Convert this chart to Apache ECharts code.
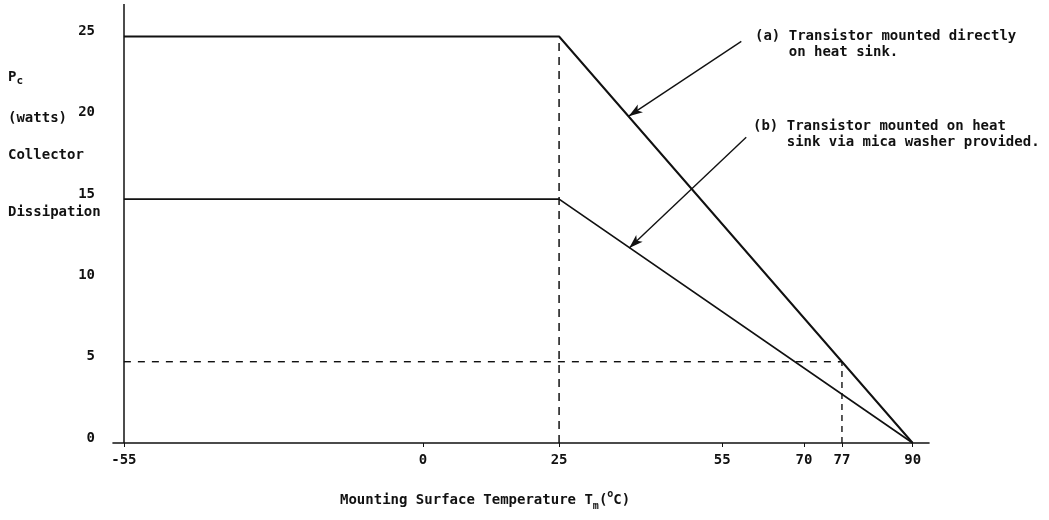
<!DOCTYPE html>
<html>
<head>
<meta charset="utf-8">
<title>Collector Dissipation</title>
<script src="https://cdn.jsdelivr.net/npm/echarts@6/dist/echarts.min.js"></script>
<style>
body { margin:0; background:#fff; }
#chart { width:1049px; height:520px; }
</style>
</head>
<body>
<div id="chart"></div>
<script>
// tick labels
var tempTicks = [-55, 0, 25, 55, 70, 77, 90];
var powerTicks = [0, 5, 10, 15, 20, 25];

// derating curves: temperature (degC) vs collector dissipation (W)
var temps = [-55, 25, 90];
var curveA = [25, 25, 0];   // mounted directly on heat sink
var curveB = [15, 15, 0];   // via mica washer

// dashed guides
var guide25 = [[25, 0], [25, 25]];
var guide5 = [[-55, 5], [77, 5]];
var guide77 = [[77, 0], [77, 5]];

// annotation arrows [from, to]
var arrowA = [[58.5, 24.7], [37.8, 20.1]];
var arrowB = [[59.4, 18.8], [37.9, 12.0]];

var ink = '#111';
var font = 'DejaVu Sans Mono';

function pairs(xs, ys) {
  var out = [];
  for (var i = 0; i < xs.length; i++) out.push([xs[i], ys[i]]);
  return out;
}

function arrow(a) {
  return [{ coord: a[0] }, { coord: a[1] }];
}

var chart = echarts.init(document.getElementById('chart'));

var option = {
  animation: false,
  grid: { left: 113, right: 120, top: 4, bottom: 77 },
  xAxis: {
    type: 'value', min: -57, max: 93,
    splitLine: { show: false },
    axisLine: { onZero: false, lineStyle: { color: ink, width: 1.6 } },
    axisTick: { show: true, customValues: tempTicks, length: 4, lineStyle: { color: ink } },
    axisLabel: {
      customValues: tempTicks, margin: 10, color: ink,
      fontFamily: font, fontWeight: 'bold', fontSize: 14
    }
  },
  yAxis: {
    type: 'value', min: 0, max: 27,
    splitLine: { show: false },
    axisLine: { show: false },
    axisTick: { show: false },
    axisLabel: {
      customValues: powerTicks, margin: 18, color: ink,
      fontFamily: font, fontWeight: 'bold', fontSize: 14,
      verticalAlign: 'bottom', lineHeight: 10
    }
  },
  series: [
    {
      name: 'axis', type: 'line', data: [], silent: true,
      markLine: {
        silent: true, symbol: ['none', 'none'], label: { show: false },
        lineStyle: { color: ink, type: 'solid', width: 1.5 },
        data: [{ xAxis: -55 }]
      }
    },
    {
      name: '(a)', type: 'line', data: pairs(temps, curveA),
      symbol: 'none', lineStyle: { color: ink, width: 2 },
      markLine: {
        silent: true, symbol: ['none', 'arrow'], symbolSize: [7, 14],
        label: { show: false },
        lineStyle: { color: ink, type: 'solid', width: 1.4 },
        data: [arrow(arrowA)]
      }
    },
    {
      name: '(b)', type: 'line', data: pairs(temps, curveB),
      symbol: 'none', lineStyle: { color: ink, width: 1.7 },
      markLine: {
        silent: true, symbol: ['none', 'arrow'], symbolSize: [7, 14],
        label: { show: false },
        lineStyle: { color: ink, type: 'solid', width: 1.4 },
        data: [arrow(arrowB)]
      }
    },
    {
      type: 'line', data: guide25, symbol: 'none',
      lineStyle: { color: ink, width: 1.5, type: [8, 6] }
    },
    {
      type: 'line', data: guide5, symbol: 'none',
      lineStyle: { color: ink, width: 1.4, type: [7, 7] }
    },
    {
      type: 'line', data: guide77, symbol: 'none',
      lineStyle: { color: ink, width: 1.4, type: [6, 5] }
    }
  ],
  graphic: [
    {
      type: 'text', left: 8, top: 70,
      style: {
        text: '{b|P}{s|c}', fill: ink,
        rich: {
          b: { fontFamily: font, fontWeight: 'bold', fontSize: 14, lineHeight: 20, fill: ink },
          s: { fontFamily: font, fontWeight: 'bold', fontSize: 11, lineHeight: 12, verticalAlign: 'bottom', fill: ink }
        }
      }
    },
    { type: 'text', left: 8, top: 111, style: { text: '(watts)', fill: ink, font: 'bold 14px ' + font } },
    { type: 'text', left: 8, top: 148, style: { text: 'Collector', fill: ink, font: 'bold 14px ' + font } },
    { type: 'text', left: 8, top: 205, style: { text: 'Dissipation', fill: ink, font: 'bold 14px ' + font } },
    {
      type: 'text', left: 755, top: 28,
      style: { text: '(a) Transistor mounted directly\n    on heat sink.', fill: ink, font: 'bold 14px ' + font, lineHeight: 16 }
    },
    {
      type: 'text', left: 753, top: 118,
      style: { text: '(b) Transistor mounted on heat\n    sink via mica washer provided.', fill: ink, font: 'bold 14px ' + font, lineHeight: 16 }
    },
    {
      type: 'text', left: 340, top: 489,
      style: {
        text: '{t|Mounting Surface Temperature T}{s|m}{t|(}{p|o}{t|C)}', fill: ink,
        rich: {
          t: { fontFamily: font, fontWeight: 'bold', fontSize: 14, lineHeight: 22, fill: ink },
          s: { fontFamily: font, fontWeight: 'bold', fontSize: 10, lineHeight: 12, verticalAlign: 'bottom', fill: ink },
          p: { fontFamily: font, fontWeight: 'bold', fontSize: 10, lineHeight: 12, verticalAlign: 'top', fill: ink }
        }
      }
    }
  ]
};

chart.setOption(option);
</script>
</body>
</html>
